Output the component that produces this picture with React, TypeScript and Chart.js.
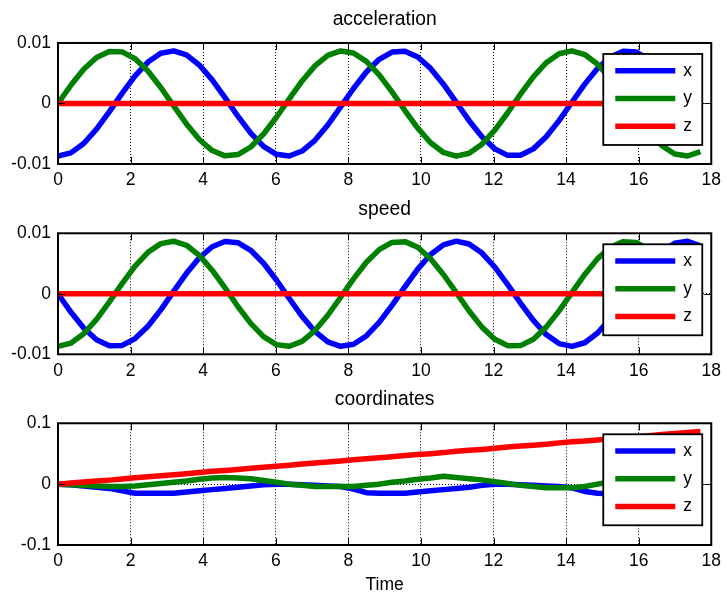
import React, { useEffect, useRef } from 'react';
import { Chart, registerables } from 'chart.js';

Chart.register(...registerables);

const FONT = "'Liberation Sans', Arial, Helvetica, sans-serif";

// ---------- data ----------
const time = [0, 0.354, 0.708, 1.062, 1.416, 1.77, 2.124, 2.478, 2.832, 3.186, 3.54, 3.894, 4.248, 4.602, 4.956, 5.31, 5.664, 6.018, 6.372, 6.726, 7.08, 7.434, 7.788, 8.142, 8.496, 8.85, 9.204, 9.558, 9.912, 10.266, 10.62, 10.974, 11.328, 11.682, 12.036, 12.39, 12.744, 13.098, 13.452, 13.806, 14.16, 14.514, 14.868, 15.222, 15.576, 15.93, 16.284, 16.638, 16.992, 17.346, 17.7];

const accelX = [-0.0087, -0.00816, -0.00661, -0.00424, -0.00134, 0.00172, 0.00457, 0.00685, 0.00829, 0.00869, 0.00802, 0.00635, 0.0039, 0.00096, -0.0021, -0.0049, -0.00709, -0.0084, -0.00867, -0.00786, -0.00608, -0.00355, -0.00057, 0.00247, 0.00521, 0.0073, 0.00849, 0.00862, 0.00769, 0.0058, 0.00319, 0.00019, -0.00284, -0.00551, -0.0075, -0.00857, -0.00856, -0.0075, -0.00551, -0.00283, 0.0002, 0.0032, 0.00581, 0.00769, 0.00862, 0.00849, 0.0073, 0.0052, 0.00246, -0.00058, -0.00356];
const accelY = [0, 0.00302, 0.00566, 0.0076, 0.0086, 0.00853, 0.0074, 0.00536, 0.00265, -0.00039, -0.00338, -0.00595, -0.00778, -0.00865, -0.00844, -0.00719, -0.00505, -0.00228, 0.00077, 0.00373, 0.00622, 0.00794, 0.00868, 0.00834, 0.00697, 0.00473, 0.00191, -0.00116, -0.00407, -0.00649, -0.00809, -0.0087, -0.00822, -0.00673, -0.0044, -0.00153, 0.00154, 0.00441, 0.00674, 0.00823, 0.0087, 0.00809, 0.00648, 0.00406, 0.00114, -0.00192, -0.00474, -0.00697, -0.00835, -0.00868, -0.00794];
const accelZ = [0, 0, 0, 0, 0, 0, 0, 0, 0, 0, 0, 0, 0, 0, 0, 0, 0, 0, 0, 0, 0, 0, 0, 0, 0, 0, 0, 0, 0, 0, 0, 0, 0, 0, 0, 0, 0, 0, 0, 0, 0, 0, 0, 0, 0, 0, 0, 0, 0, 0, 0];

const speedX = [0, -0.00302, -0.00566, -0.0076, -0.0086, -0.00853, -0.0074, -0.00536, -0.00265, 0.00039, 0.00338, 0.00595, 0.00778, 0.00865, 0.00844, 0.00719, 0.00505, 0.00228, -0.00077, -0.00373, -0.00622, -0.00794, -0.00868, -0.00834, -0.00697, -0.00473, -0.00191, 0.00116, 0.00407, 0.00649, 0.00809, 0.0087, 0.00822, 0.00673, 0.0044, 0.00153, -0.00154, -0.00441, -0.00674, -0.00823, -0.0087, -0.00809, -0.00648, -0.00406, -0.00114, 0.00192, 0.00474, 0.00697, 0.00835, 0.00868, 0.00794];
const speedY = [-0.0087, -0.00816, -0.00661, -0.00424, -0.00134, 0.00172, 0.00457, 0.00685, 0.00829, 0.00869, 0.00802, 0.00635, 0.0039, 0.00096, -0.0021, -0.0049, -0.00709, -0.0084, -0.00867, -0.00786, -0.00608, -0.00355, -0.00057, 0.00247, 0.00521, 0.0073, 0.00849, 0.00862, 0.00769, 0.0058, 0.00319, 0.00019, -0.00284, -0.00551, -0.0075, -0.00857, -0.00856, -0.0075, -0.00551, -0.00283, 0.0002, 0.0032, 0.00581, 0.00769, 0.00862, 0.00849, 0.0073, 0.0052, 0.00246, -0.00058, -0.00356];
const speedZ = [0, 0, 0, 0, 0, 0, 0, 0, 0, 0, 0, 0, 0, 0, 0, 0, 0, 0, 0, 0, 0, 0, 0, 0, 0, 0, 0, 0, 0, 0, 0, 0, 0, 0, 0, 0, 0, 0, 0, 0, 0, 0, 0, 0, 0, 0, 0, 0, 0, 0, 0];

const coordX = [0, -0.001, -0.003, -0.005, -0.007, -0.011, -0.015, -0.015, -0.015, -0.015, -0.013, -0.011, -0.009, -0.007, -0.005, -0.003, -0.001, 0, 0, -0.001, -0.002, -0.003, -0.004, -0.008, -0.014, -0.015, -0.015, -0.015, -0.013, -0.011, -0.009, -0.007, -0.005, -0.002, 0, 0, -0.001, -0.002, -0.003, -0.004, -0.006, -0.012, -0.015, -0.016, -0.016, -0.015, -0.013, -0.011, -0.009, -0.007, -0.005];
const coordY = [0, -0.001, -0.002, -0.003, -0.004, -0.004, -0.003, -0.001, 0.001, 0.003, 0.005, 0.008, 0.01, 0.011, 0.01, 0.009, 0.006, 0.003, 0, -0.002, -0.004, -0.004, -0.004, -0.004, -0.002, 0, 0.003, 0.005, 0.008, 0.01, 0.013, 0.011, 0.009, 0.007, 0.004, 0.001, -0.002, -0.004, -0.006, -0.006, -0.006, -0.004, 0, 0.004, 0.007, 0.009, 0.011, 0.012, 0.013, 0.012, 0.01];
const coordZ = [0, 0.0018, 0.0036, 0.005, 0.0066, 0.0085, 0.0105, 0.0122, 0.0138, 0.0154, 0.0172, 0.0192, 0.021, 0.0224, 0.0241, 0.0262, 0.0279, 0.0293, 0.031, 0.0331, 0.0348, 0.0362, 0.038, 0.0401, 0.0418, 0.0432, 0.0449, 0.047, 0.0487, 0.0501, 0.0518, 0.054, 0.0556, 0.057, 0.0588, 0.0609, 0.0625, 0.0639, 0.0657, 0.0678, 0.0695, 0.0708, 0.0726, 0.0747, 0.0764, 0.0778, 0.0795, 0.0817, 0.0833, 0.0847, 0.0866];

const seriesLabels = ['x', 'y', 'z'];
const seriesColors = ['#0000ff', '#008000', '#ff0000'];

const xTickValues = [0, 2, 4, 6, 8, 10, 12, 14, 16, 18];
const xTickLabels = ['0', '2', '4', '6', '8', '10', '12', '14', '16', '18'];
const smallTickValues = [-0.01, 0, 0.01];
const smallTickLabels = ['-0.01', '0', '0.01'];
const coordTickValues = [-0.1, 0, 0.1];
const coordTickLabels = ['-0.1', '0', '0.1'];

const panelTitles = ['acceleration', 'speed', 'coordinates'];
const xAxisTitle = 'Time';

// ---------- layout (page pixels) ----------
const W = 727;
const H = 593;
const panels = [
  { title: panelTitles[0], series: [accelX, accelY, accelZ], ticks: smallTickValues, labels: smallTickLabels, padTop: 7.9, padBottom: 399, xH: 30, xTitle: '' },
  { title: panelTitles[1], series: [speedX, speedY, speedZ], ticks: smallTickValues, labels: smallTickLabels, padTop: 198.2, padBottom: 208.7, xH: 30, xTitle: '' },
  { title: panelTitles[2], series: [coordX, coordY, coordZ], ticks: coordTickValues, labels: coordTickLabels, padTop: 388.2, padBottom: 0, xH: 48, xTitle: xAxisTitle },
];

const framePlugin = {
  id: 'matlabFrame',
  afterDatasetsDraw(chart: any) {
    const { ctx, chartArea: a, scales } = chart;
    const xs = scales.x;
    const ys = scales.y;
    ctx.save();
    ctx.strokeStyle = '#000';
    ctx.lineWidth = 1;
    ctx.beginPath();
    xs.ticks.forEach((t: any) => {
      const px = Math.round(xs.getPixelForValue(t.value)) + 0.5;
      ctx.moveTo(px, a.bottom);
      ctx.lineTo(px, a.bottom - 7);
      ctx.moveTo(px, a.top);
      ctx.lineTo(px, a.top + 7);
    });
    ys.ticks.forEach((t: any) => {
      const py = Math.round(ys.getPixelForValue(t.value)) + 0.5;
      ctx.moveTo(a.left, py);
      ctx.lineTo(a.left + 7, py);
      ctx.moveTo(a.right, py);
      ctx.lineTo(a.right - 7, py);
    });
    ctx.stroke();
    ctx.lineWidth = 2;
    ctx.strokeRect(a.left, a.top, a.right - a.left, a.bottom - a.top);

    // legend box
    const lx = a.right - 108;
    const ly = a.top + 11;
    const lw = 99;
    const lh = 91;
    ctx.fillStyle = '#fff';
    ctx.fillRect(lx, ly, lw, lh);
    ctx.lineWidth = 1.8;
    ctx.strokeStyle = '#000';
    ctx.strokeRect(lx, ly, lw, lh);
    chart.data.datasets.forEach((ds: any, i: number) => {
      const y = a.top + 27.7 + i * 27.8;
      ctx.strokeStyle = ds.borderColor;
      ctx.lineWidth = 5.5;
      ctx.beginPath();
      ctx.moveTo(a.right - 96, y);
      ctx.lineTo(a.right - 36, y);
      ctx.stroke();
      ctx.fillStyle = '#000';
      ctx.font = `17.5px ${FONT}`;
      ctx.textAlign = 'left';
      ctx.textBaseline = 'middle';
      ctx.fillText(ds.label, a.right - 28, y);
    });
    ctx.restore();
  },
};

function Panel({ cfg }: { cfg: any }) {
  const ref = useRef<HTMLCanvasElement>(null);
  useEffect(() => {
    const font = { family: FONT, size: 17.5, weight: 'normal' as const };
    const chart = new Chart(ref.current as HTMLCanvasElement, {
      type: 'line',
      data: {
        datasets: cfg.series.map((arr: number[], i: number) => ({
          label: seriesLabels[i],
          data: time.map((t, k) => ({ x: t, y: arr[k] })),
          borderColor: seriesColors[i],
          backgroundColor: seriesColors[i],
          borderWidth: 5.5,
          pointRadius: 0,
          tension: 0,
          fill: false,
          order: 2 - i,
          borderJoinStyle: 'round',
        })),
      },
      options: {
        responsive: false,
        devicePixelRatio: 1,
        animation: false,
        events: [],
        layout: { padding: { left: 0, right: 12, top: cfg.padTop, bottom: cfg.padBottom } },
        plugins: {
          legend: { display: false },
          tooltip: { enabled: false },
          title: {
            display: true,
            fullSize: false,
            text: cfg.title,
            color: '#000',
            font: { family: FONT, size: 19.3, weight: 'normal' },
            padding: { top: 0, bottom: 11.92 },
          },
        },
        scales: {
          x: {
            type: 'linear',
            min: xTickValues[0],
            max: xTickValues[xTickValues.length - 1],
            afterBuildTicks: (s: any) => {
              s.ticks = xTickValues.map((v) => ({ value: v }));
            },
            afterFit: (s: any) => {
              s.height = cfg.xH;
            },
            ticks: {
              autoSkip: false,
              maxRotation: 0,
              padding: 6,
              color: '#000',
              font,
              callback: (_v: any, i: number) => xTickLabels[i],
            },
            grid: { color: '#000', lineWidth: 1, drawTicks: false },
            border: { display: false, dash: [1, 2] },
            title: cfg.xTitle
              ? { display: true, text: cfg.xTitle, color: '#000', font, padding: { top: 0, bottom: -2.5 } }
              : { display: false },
          },
          y: {
            type: 'linear',
            min: cfg.ticks[0],
            max: cfg.ticks[cfg.ticks.length - 1],
            afterBuildTicks: (s: any) => {
              s.ticks = cfg.ticks.map((v: number) => ({ value: v }));
            },
            afterFit: (s: any) => {
              s.width = 58;
            },
            ticks: {
              padding: 7,
              color: '#000',
              font,
              callback: (_v: any, i: number) => cfg.labels[i],
            },
            grid: { color: '#000', lineWidth: 1, drawTicks: false },
            border: { display: false, dash: [1, 2] },
          },
        },
      },
      plugins: [framePlugin],
    } as any);
    return () => chart.destroy();
  }, []);
  return <canvas ref={ref} width={W} height={H} style={{ position: 'absolute', left: 0, top: 0 }} />;
}

export default function App() {
  return (
    <div style={{ position: 'absolute', left: 0, top: 0, width: W, height: H, background: '#fff', overflow: 'hidden' }}>
      {panels.map((p, i) => (
        <Panel key={i} cfg={p} />
      ))}
    </div>
  );
}
